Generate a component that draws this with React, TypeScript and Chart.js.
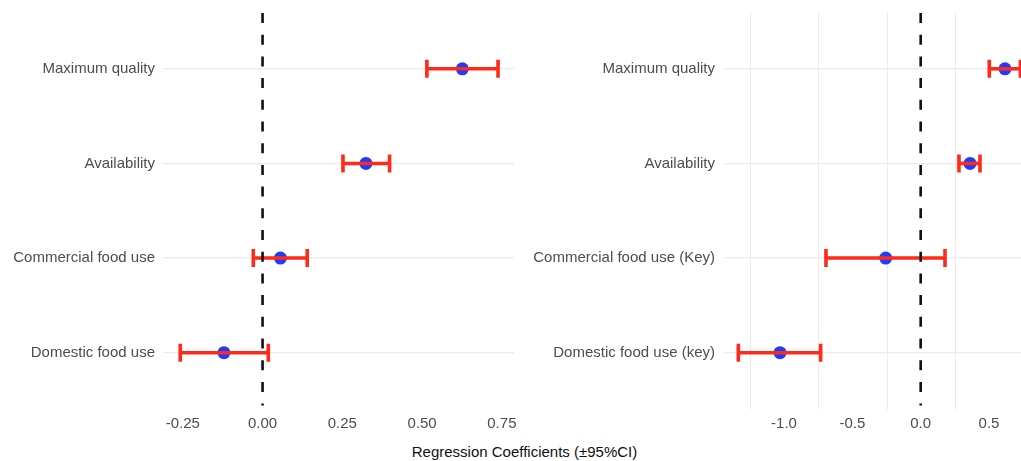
import React, { useEffect, useRef } from "react";
import { Chart, registerables } from "chart.js";

Chart.register(...registerables);

// ---------- data ----------
// categories listed bottom (y = 1) to top (y = 4)
const leftCategories = ["Domestic food use", "Commercial food use", "Availability", "Maximum quality"];
const leftEstimate = [-0.121, 0.056, 0.324, 0.626];
const leftLower = [-0.258, -0.029, 0.252, 0.515];
const leftUpper = [0.018, 0.14, 0.398, 0.738];
const leftTickValues = [-0.25, 0, 0.25, 0.5, 0.75];
const leftTickLabels = ["-0.25", "0.00", "0.25", "0.50", "0.75"];
const leftMinorBreaks: number[] = [];

const rightCategories = [
  "Domestic food use (key)",
  "Commercial food use (Key)",
  "Availability",
  "Maximum quality",
];
const rightEstimate = [-1.029, -0.256, 0.361, 0.617];
const rightLower = [-1.334, -0.693, 0.28, 0.502];
const rightUpper = [-0.732, 0.178, 0.434, 0.73];
const rightTickValues = [-1.0, -0.5, 0.0, 0.5];
const rightTickLabels = ["-1.0", "-0.5", "0.0", "0.5"];
const rightMinorBreaks = [-1.25, -0.75, -0.25, 0.25];

const axisTitle = "Regression Coefficients (±95%CI)";

// ---------- styles ----------
const FONT = "'Liberation Sans', Arial, Helvetica, sans-serif";
const TEXT_GREY = "#4d4d4d";
const GRID = "#ebebeb";
const POINT_BLUE = "#1e3cff";
const BAR_RED = "#ff2a1a";

type Panel = {
  categories: string[];
  est: number[];
  lo: number[];
  hi: number[];
  tickValues: number[];
  tickLabels: string[];
  minor: number[];
  xMin: number;
  xMax: number;
  yAxisWidth: number;
  padRight: number;
  labelPad: number;
};

function buildChart(canvas: HTMLCanvasElement, p: Panel) {
  const overlay = {
    id: "forestOverlay",
    beforeDatasetsDraw(chart: any) {
      const { ctx, chartArea, scales } = chart;
      const x = scales.x;
      ctx.save();
      ctx.strokeStyle = GRID;
      ctx.lineWidth = 1;
      p.minor.forEach((v) => {
        const px = Math.round(x.getPixelForValue(v)) + 0.5;
        ctx.beginPath();
        ctx.moveTo(px, chartArea.top);
        ctx.lineTo(px, chartArea.bottom);
        ctx.stroke();
      });
      ctx.restore();
    },
    afterDatasetsDraw(chart: any) {
      const { ctx, chartArea, scales } = chart;
      const x = scales.x;
      const y = scales.y;
      ctx.save();
      // error bars
      ctx.strokeStyle = BAR_RED;
      ctx.lineWidth = 3.6;
      ctx.lineCap = "butt";
      p.est.forEach((_, i) => {
        const py = y.getPixelForValue(i + 1);
        const x0 = x.getPixelForValue(p.lo[i]);
        const x1 = x.getPixelForValue(p.hi[i]);
        ctx.beginPath();
        ctx.moveTo(x0, py);
        ctx.lineTo(x1, py);
        ctx.stroke();
        ctx.beginPath();
        ctx.moveTo(x0, py - 9);
        ctx.lineTo(x0, py + 9);
        ctx.moveTo(x1, py - 9);
        ctx.lineTo(x1, py + 9);
        ctx.stroke();
      });
      // dashed zero reference
      const zx = x.getPixelForValue(0);
      ctx.strokeStyle = "#111111";
      ctx.lineWidth = 2.6;
      ctx.setLineDash([10, 11.7]);
      ctx.beginPath();
      ctx.moveTo(zx, chartArea.top + 1);
      ctx.lineTo(zx, chartArea.bottom - 4);
      ctx.stroke();
      ctx.restore();
    },
  };

  return new Chart(canvas, {
    type: "scatter",
    data: {
      datasets: [
        {
          data: p.est.map((v, i) => ({ x: v, y: i + 1 })),
          backgroundColor: POINT_BLUE,
          borderWidth: 0,
          pointRadius: 6.5,
          pointHoverRadius: 6.5,
        },
      ],
    },
    options: {
      responsive: false,
      animation: false,
      events: [],
      layout: { autoPadding: false, padding: { top: 12, right: p.padRight, left: 0, bottom: 0 } },
      plugins: { legend: { display: false }, tooltip: { enabled: false } },
      scales: {
        x: {
          type: "linear",
          min: p.xMin,
          max: p.xMax,
          border: { display: false },
          grid: { display: false, drawTicks: false },
          ticks: {
            color: TEXT_GREY,
            font: { family: FONT, size: 15 },
            padding: 5,
            maxRotation: 0,
            callback: (_v: any, i: number) => p.tickLabels[i],
          },
          afterBuildTicks: (s: any) => {
            s.ticks = p.tickValues.map((v) => ({ value: v }));
          },
          afterFit: (s: any) => {
            s.height = 30.5;
            s.paddingLeft = 0;
            s.paddingRight = 0;
          },
        },
        y: {
          type: "linear",
          min: 0.4,
          max: 4.6,
          border: { display: false },
          grid: { color: GRID, lineWidth: 1.2, drawTicks: false },
          ticks: {
            color: TEXT_GREY,
            font: { family: FONT, size: 15 },
            padding: p.labelPad,
            callback: (_v: any, i: number) => p.categories[i],
          },
          afterBuildTicks: (s: any) => {
            s.ticks = p.categories.map((_, i) => ({ value: i + 1 }));
          },
          afterFit: (s: any) => {
            s.width = p.yAxisWidth;
            s.paddingTop = 0;
            s.paddingBottom = 0;
          },
        },
      },
    } as any,
    plugins: [overlay],
  });
}

export default function App() {
  const leftRef = useRef<HTMLCanvasElement>(null);
  const rightRef = useRef<HTMLCanvasElement>(null);

  useEffect(() => {
    const c1 = buildChart(leftRef.current!, {
      categories: leftCategories,
      est: leftEstimate,
      lo: leftLower,
      hi: leftUpper,
      tickValues: leftTickValues,
      tickLabels: leftTickLabels,
      minor: leftMinorBreaks,
      xMin: -0.312,
      xMax: 0.788,
      yAxisWidth: 163,
      padRight: 10,
      labelPad: 8,
    });
    const c2 = buildChart(rightRef.current!, {
      categories: rightCategories,
      est: rightEstimate,
      lo: rightLower,
      hi: rightUpper,
      tickValues: rightTickValues,
      tickLabels: rightTickLabels,
      minor: rightMinorBreaks,
      xMin: -1.439,
      xMax: 0.734,
      yAxisWidth: 204,
      padRight: 0,
      labelPad: 9,
    });
    return () => {
      c1.destroy();
      c2.destroy();
    };
  }, []);

  return (
    <div
      style={{
        position: "absolute",
        left: 0,
        top: 0,
        width: 1021,
        height: 461,
        overflow: "hidden",
        background: "#ffffff",
      }}
    >
      <canvas
        ref={leftRef}
        width={524}
        height={440}
        style={{ position: "absolute", left: 0, top: 0, width: 524, height: 440 }}
      />
      <canvas
        ref={rightRef}
        width={501}
        height={440}
        style={{ position: "absolute", left: 520, top: 0, width: 501, height: 440 }}
      />
      <div
        style={{
          position: "absolute",
          left: 324.5,
          top: 443,
          width: 400,
          height: 18,
          lineHeight: "18px",
          textAlign: "center",
          fontFamily: FONT,
          fontSize: 15,
          color: "#111111",
          whiteSpace: "nowrap",
        }}
      >
        {axisTitle}
      </div>
    </div>
  );
}
